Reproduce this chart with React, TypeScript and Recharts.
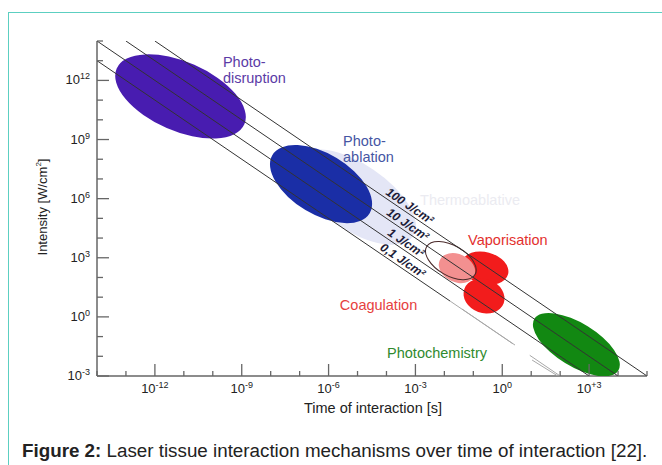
import React from 'react'
import { ScatterChart, Scatter, XAxis, YAxis } from 'recharts'

// every value is log10: t = time of interaction [s], i = intensity [W/cm²]
const xTicks = [-14, -13, -12, -11, -10, -9, -8, -7, -6, -5, -4, -3, -2, -1, 0, 1, 2, 3, 4, 5]
const yTicks = [-3, -2, -1, 0, 1, 2, 3, 4, 5, 6, 7, 8, 9, 10, 11, 12, 13, 14]
const xLabeled = [-12, -9, -6, -3, 0, 3]
const xTickLabels = ['-12', '-9', '-6', '-3', '0', '+3']
const yLabeled = [-3, 0, 3, 6, 9, 12]
const yTickLabels = ['-3', '0', '3', '6', '9', '12']

// constant fluence lines (end points)
const fluence100 = [{ t: -12, i: 14 }, { t: 5, i: -3 }]
const fluence10 = [{ t: -13, i: 14 }, { t: 4, i: -3 }]
const fluence1 = [{ t: -14, i: 14 }, { t: 3, i: -3 }]
const fluence01 = [{ t: -14, i: 13 }, { t: -1.8, i: 0.8 }]
const fluence01Faint = [{ t: -1.8, i: 0.8 }, { t: 0.37, i: -1.37 }]
const fluence01Tail = [{ t: 0.95, i: -1.95 }, { t: 2, i: -3 }]
const companionUpper = [{ t: -1.39, i: 0.4 }, { t: 0.44, i: -1.43 }]
const companionLower = [{ t: 1.03, i: -2.19 }, { t: 1.92, i: -3 }]

// regions: two ends of the long axis, then one end of the short axis
const photodisruption = [{ t: -13.32, i: 12.6 }, { t: -8.91, i: 9.77 }, { t: -10.64, i: 12.79 }]
const thermalHalo = [{ t: -7.09, i: 8.07 }, { t: -3.08, i: 4.1 }, { t: -4.45, i: 7.47 }]
const photoablation = [{ t: -7.94, i: 8.22 }, { t: -4.58, i: 5.26 }, { t: -5.72, i: 8.06 }]
const vaporUpper = [{ t: -1.4, i: 2.79 }, { t: 0.2, i: 2.16 }, { t: -0.46, i: 3.26 }]
const vaporLower = [{ t: -1.31, i: 1.42 }, { t: 0.05, i: 0.69 }, { t: -0.44, i: 1.87 }]
const coagulation = [{ t: -2.16, i: 2.88 }, { t: -0.97, i: 2.07 }, { t: -1.36, i: 3.12 }]
const thermalRing = [{ t: -2.61, i: 3.57 }, { t: -0.94, i: 2.15 }, { t: -1.51, i: 3.52 }]
const photochemistry = [{ t: 1.11, i: -0.1 }, { t: 4.01, i: -2.72 }, { t: 2.95, i: -0.48 }]

const fluenceLabels = [
  { text: '100 J/cm²', t: -3.33, i: 5.33 },
  { text: '10 J/cm²', t: -3.4, i: 4.4 },
  { text: '1 J/cm²', t: -3.46, i: 3.46 },
  { text: '0,1 J/cm²', t: -3.57, i: 2.57 },
]
const regionLabels = [
  { key: 'disruption', lines: ['Photo-', 'disruption'], t: -9.65, i: 12.68 },
  { key: 'ablation', lines: ['Photo-', 'ablation'], t: -5.5, i: 8.67 },
  { key: 'vapor', lines: ['Vaporisation'], t: -1.18, i: 3.64 },
  { key: 'coag', lines: ['Coagulation'], t: -5.61, i: 0.35 },
  { key: 'chem', lines: ['Photochemistry'], t: -3.98, i: -2.09 },
  { key: 'thermo', lines: ['Thermoablative'], t: -2.84, i: 5.68 },
]
const labelColors: Record<string, string> = {
  disruption: '#5b3ba6',
  ablation: '#4555a3',
  vapor: '#e3302e',
  coag: '#e6403e',
  chem: '#2f8a2f',
  thermo: '#ebebf1',
}

const FONT = '"Liberation Sans", Arial, sans-serif'
const AXIS = '#666'
const LINE = '#333'
const FAINT = '#a8a8a8'

const noDot = () => <g />

// draws an ellipse through the pixel points the scatter hands to its line
const ellipseLine = (fill: string, stroke = 'none') => (props: any) => {
  const pts = props.points
  if (!pts || pts.length < 3) return <g />
  const [a, b, c] = pts
  const cx = (a.x + b.x) / 2
  const cy = (a.y + b.y) / 2
  const rx = Math.hypot(b.x - a.x, b.y - a.y) / 2
  const ry = Math.hypot(c.x - cx, c.y - cy)
  const ang = (Math.atan2(b.y - a.y, b.x - a.x) * 180) / Math.PI
  return (
    <ellipse
      cx={cx}
      cy={cy}
      rx={rx}
      ry={ry}
      transform={`rotate(${ang} ${cx} ${cy})`}
      fill={fill}
      stroke={stroke}
      strokeWidth={1}
    />
  )
}

function BottomTick(props: any) {
  const { x, y, payload } = props
  const k = xLabeled.indexOf(payload.value)
  return (
    <g>
      <line x1={x} y1={y} x2={x} y2={y - (k >= 0 ? 12 : 5)} stroke={AXIS} strokeWidth={1.3} />
      {k >= 0 && (
        <text x={x} y={y + 17} textAnchor="middle" fontSize={13} fill="#222" fontFamily={FONT}>
          10<tspan dy={-5} fontSize={9}>{xTickLabels[k]}</tspan>
        </text>
      )}
    </g>
  )
}

function TopTick(props: any) {
  const { x, y, payload } = props
  const major = xLabeled.includes(payload.value)
  return <line x1={x} y1={y} x2={x} y2={y + (major ? 12 : 5)} stroke={AXIS} strokeWidth={1.3} />
}

function LeftTick(props: any) {
  const { x, y, payload } = props
  const k = yLabeled.indexOf(payload.value)
  return (
    <g>
      <line x1={x} y1={y} x2={x + (k >= 0 ? 12 : 6)} y2={y} stroke={AXIS} strokeWidth={1.3} />
      {k >= 0 && (
        <text x={x - 7} y={y + 4} textAnchor="end" fontSize={13} fill="#222" fontFamily={FONT}>
          10<tspan dy={-5} fontSize={9}>{yTickLabels[k]}</tspan>
        </text>
      )}
    </g>
  )
}

function RightTick(props: any) {
  const { x, y, payload } = props
  const major = yLabeled.includes(payload.value)
  return <line x1={x} y1={y} x2={x - (major ? 12 : 6)} y2={y} stroke={AXIS} strokeWidth={1.3} />
}

const fluenceText = (text: string) => (p: any) => (
  <text
    x={p.cx}
    y={p.cy}
    dy={-3}
    transform={`rotate(34.2 ${p.cx} ${p.cy})`}
    textAnchor="middle"
    fontSize={12}
    fontStyle="italic"
    fontWeight="bold"
    fill="#1c1c38"
    fontFamily={FONT}
  >
    {text}
  </text>
)

const regionText = (lines: string[], color: string) => (p: any) => (
  <text x={p.cx} y={p.cy} fontSize={14.5} fill={color} fontFamily={FONT}>
    {lines.map((l, k) => (
      <tspan key={k} x={p.cx} dy={k ? 16 : 0}>
        {l}
      </tspan>
    ))}
  </text>
)

const lineSeries = (data: { t: number; i: number }[], stroke: string) => (
  <Scatter data={data} shape={noDot} line={{ stroke, strokeWidth: 1 }} isAnimationActive={false} />
)

export default function App() {
  return (
    <div style={{ position: 'absolute', left: 0, top: 0, width: 662, height: 465, background: '#fff', fontFamily: FONT }}>
      <div
        style={{
          position: 'absolute',
          left: 8,
          top: 12,
          width: 660,
          height: 460,
          borderTop: '1.5px solid #5ccfc1',
          borderLeft: '1.5px solid #5ccfc1',
        }}
      />
      <div style={{ position: 'absolute', left: 0, top: 0 }}>
        <ScatterChart width={662} height={465} margin={{ top: 41, right: 15, bottom: 59, left: 0 }}>
          <XAxis
            type="number"
            dataKey="t"
            domain={[-14, 5]}
            ticks={xTicks}
            interval={0}
            allowDataOverflow
            height={30}
            tickSize={0}
            tickMargin={0}
            tickLine={false}
            axisLine={{ stroke: AXIS, strokeWidth: 1.5 }}
            tick={(p: any) => <BottomTick {...p} />}
          />
          <XAxis
            xAxisId="top"
            orientation="top"
            type="number"
            dataKey="t"
            domain={[-14, 5]}
            ticks={xTicks}
            interval={0}
            allowDataOverflow
            height={0}
            tickSize={0}
            tickMargin={0}
            tickLine={false}
            axisLine={{ stroke: AXIS, strokeWidth: 1.5 }}
            tick={(p: any) => <TopTick {...p} />}
          />
          <YAxis
            type="number"
            dataKey="i"
            domain={[-3, 14]}
            ticks={yTicks}
            interval={0}
            allowDataOverflow
            width={97}
            tickSize={0}
            tickMargin={0}
            tickLine={false}
            axisLine={{ stroke: AXIS, strokeWidth: 1.5 }}
            tick={(p: any) => <LeftTick {...p} />}
          />
          <YAxis
            yAxisId="right"
            orientation="right"
            type="number"
            dataKey="i"
            domain={[-3, 14]}
            ticks={yTicks}
            interval={0}
            allowDataOverflow
            width={0}
            tickSize={0}
            tickMargin={0}
            tickLine={false}
            axisLine={{ stroke: AXIS, strokeWidth: 1.5 }}
            tick={(p: any) => <RightTick {...p} />}
          />

          <Scatter data={thermalHalo} shape={noDot} line={ellipseLine('#e4e6f6')} isAnimationActive={false} />
          <Scatter data={photodisruption} shape={noDot} line={ellipseLine('#481cb0')} isAnimationActive={false} />
          <Scatter data={photoablation} shape={noDot} line={ellipseLine('#1a2ea6')} isAnimationActive={false} />
          <Scatter data={vaporUpper} shape={noDot} line={ellipseLine('#f21c1c')} isAnimationActive={false} />
          <Scatter data={vaporLower} shape={noDot} line={ellipseLine('#f21c1c')} isAnimationActive={false} />
          <Scatter data={coagulation} shape={noDot} line={ellipseLine('#f39090')} isAnimationActive={false} />
          <Scatter data={thermalRing} shape={noDot} line={ellipseLine('none', '#4a2a2a')} isAnimationActive={false} />
          <Scatter data={photochemistry} shape={noDot} line={ellipseLine('#128812')} isAnimationActive={false} />

          {lineSeries(fluence100, LINE)}
          {lineSeries(fluence10, LINE)}
          {lineSeries(fluence1, LINE)}
          {lineSeries(fluence01, LINE)}
          {lineSeries(fluence01Faint, FAINT)}
          {lineSeries(fluence01Tail, FAINT)}
          {lineSeries(companionUpper, FAINT)}
          {lineSeries(companionLower, FAINT)}

          {fluenceLabels.map((f) => (
            <Scatter key={f.text} data={[f]} shape={fluenceText(f.text)} isAnimationActive={false} />
          ))}
          {regionLabels.map((r) => (
            <Scatter key={r.key} data={[r]} shape={regionText(r.lines, labelColors[r.key])} isAnimationActive={false} />
          ))}
        </ScatterChart>
      </div>
      <div
        style={{
          position: 'absolute',
          left: 42,
          top: 207,
          transform: 'translate(-50%, -50%) rotate(-90deg)',
          whiteSpace: 'nowrap',
          fontSize: 13,
          color: '#222',
        }}
      >
        Intensity [W/cm<sup style={{ fontSize: 8 }}>2</sup>]
      </div>
      <div
        style={{
          position: 'absolute',
          left: 373,
          top: 408,
          transform: 'translate(-50%, -50%)',
          whiteSpace: 'nowrap',
          fontSize: 14.5,
          color: '#222',
        }}
      >
        Time of interaction [s]
      </div>
      <div style={{ position: 'absolute', left: 22, top: 440, whiteSpace: 'nowrap', fontSize: 18.8, color: '#222' }}>
        <b>Figure 2:</b> Laser tissue interaction mechanisms over time of interaction [22].
      </div>
    </div>
  )
}
